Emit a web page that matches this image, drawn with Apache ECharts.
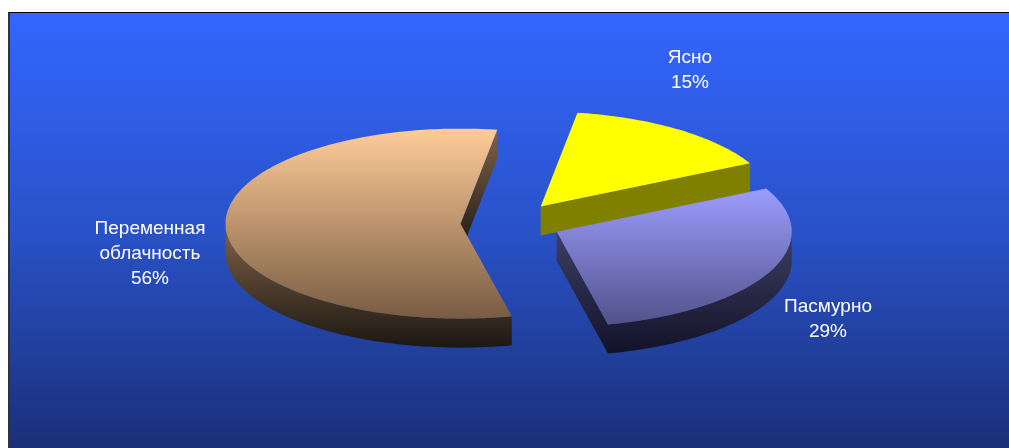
<!DOCTYPE html>
<html>
<head>
<meta charset="utf-8">
<script src="https://cdn.jsdelivr.net/npm/echarts@6/dist/echarts.min.js"></script>
<style>
  html, body { margin: 0; padding: 0; background: #ffffff; }
  #frame {
    position: absolute; left: 8px; top: 12px;
    border-top: 1px solid #000000; border-left: 2px solid #333333;
  }
  #chart { width: 999px; height: 435px; }
</style>
</head>
<body>
<div id="frame"><div id="chart"></div></div>
<script>
// Cloud cover shares, clockwise from the top
const categories = ['Ясно', 'Пасмурно', 'Переменная облачность'];
const percents = [15, 29, 56];
const labelNames = ['Ясно', 'Пасмурно', 'Переменная\nоблачность'];

// Geometry of the tilted, exploded pie (pixels inside the chart area)
const PIE = { cx: 501, cy: 210, rx: 235, ry: 95, depth: 29, startAngle: 81, explode: 0.215 };
const LABEL_POS = [[680, 57], [818, 306], [140, 241]];

// Face and side shading for each slice
const STYLE = [
  { top: ['#FFFF00', '#FFFF00'], wall: ['#808000', '#808000'] },
  { top: ['#9C9CFF', '#52528A'], wall: ['#3E3E62', '#12122A'] },
  { top: ['#FFCC99', '#785C42'], wall: ['#806248', '#1C1812'] }
];

const rad = d => d * Math.PI / 180;
const grad = c => ({
  type: 'linear', x: 0, y: 0, x2: 0, y2: 1,
  colorStops: [{ offset: 0, color: c[0] }, { offset: 1, color: c[1] }]
});

function renderItem(params, api) {
  const i = params.dataIndex;
  const total = percents.reduce((s, v) => s + v, 0);
  let before = 0;
  for (let k = 0; k < i; k++) before += percents[k];
  const pct = api.value(0);
  const a = PIE.startAngle - 360 * before / total;   // leading edge
  const b = a - 360 * pct / total;                   // trailing edge
  const m = (a + b) / 2;
  const ox = PIE.cx + PIE.explode * PIE.rx * Math.cos(rad(m));
  const oy = PIE.cy - PIE.explode * PIE.ry * Math.sin(rad(m));
  const D = PIE.depth;
  const pt = (deg, dz) => [ox + PIE.rx * Math.cos(rad(deg)), oy - PIE.ry * Math.sin(rad(deg)) + (dz || 0)];
  const arc = (from, to, dz) => {
    const n = Math.max(2, Math.ceil(Math.abs(from - to)));
    const pts = [];
    for (let k = 0; k <= n; k++) pts.push(pt(from + (to - from) * k / n, dz));
    return pts;
  };
  const st = STYLE[i];
  const base = i * 10;
  const children = [];

  // curved outer side, only on the front half of the ellipse
  for (let k = -1; k <= 1; k++) {
    const lo = Math.max(b, -180 + 360 * k);
    const hi = Math.min(a, 360 * k);
    if (lo < hi) {
      const poly = arc(hi, lo, 0).concat(arc(lo, hi, D));
      children.push({ type: 'polygon', z2: base, shape: { points: poly },
        style: { fill: grad(st.wall) } });
    }
  }
  // radial cut faces that face the viewer
  const cut = e => ({
    type: 'polygon', z2: base + 1,
    shape: { points: [[ox, oy], pt(e), pt(e, D), [ox, oy + D]] },
    style: { fill: grad(st.wall) }
  });
  if (Math.cos(rad(a)) < 0) children.push(cut(a));
  if (Math.cos(rad(b)) > 0) children.push(cut(b));

  // top face
  children.push({ type: 'polygon', z2: base + 2,
    shape: { points: [[ox, oy]].concat(arc(a, b, 0)) },
    style: { fill: grad(st.top) } });

  // label
  children.push({ type: 'text', z2: base + 3,
    style: {
      text: labelNames[i] + '\n' + pct + '%',
      x: LABEL_POS[i][0], y: LABEL_POS[i][1],
      fill: '#FFFFFF', font: '19px "Liberation Sans", Arial, sans-serif',
      align: 'center', verticalAlign: 'middle', lineHeight: 25
    } });

  return { type: 'group', children };
}

const chart = echarts.init(document.getElementById('chart'), null, { renderer: 'canvas' });
chart.setOption({
  animation: false,
  backgroundColor: {
    type: 'linear', x: 0, y: 0, x2: 0, y2: 1,
    colorStops: [
      { offset: 0, color: '#3366FF' },
      { offset: 0.5, color: '#2952C8' },
      { offset: 1, color: '#1A2F78' }
    ]
  },
  series: [{
    type: 'custom',
    coordinateSystem: 'none',
    silent: true,
    renderItem: renderItem,
    data: percents.map((v, i) => ({ name: categories[i], value: v }))
  }]
});
</script>
</body>
</html>
